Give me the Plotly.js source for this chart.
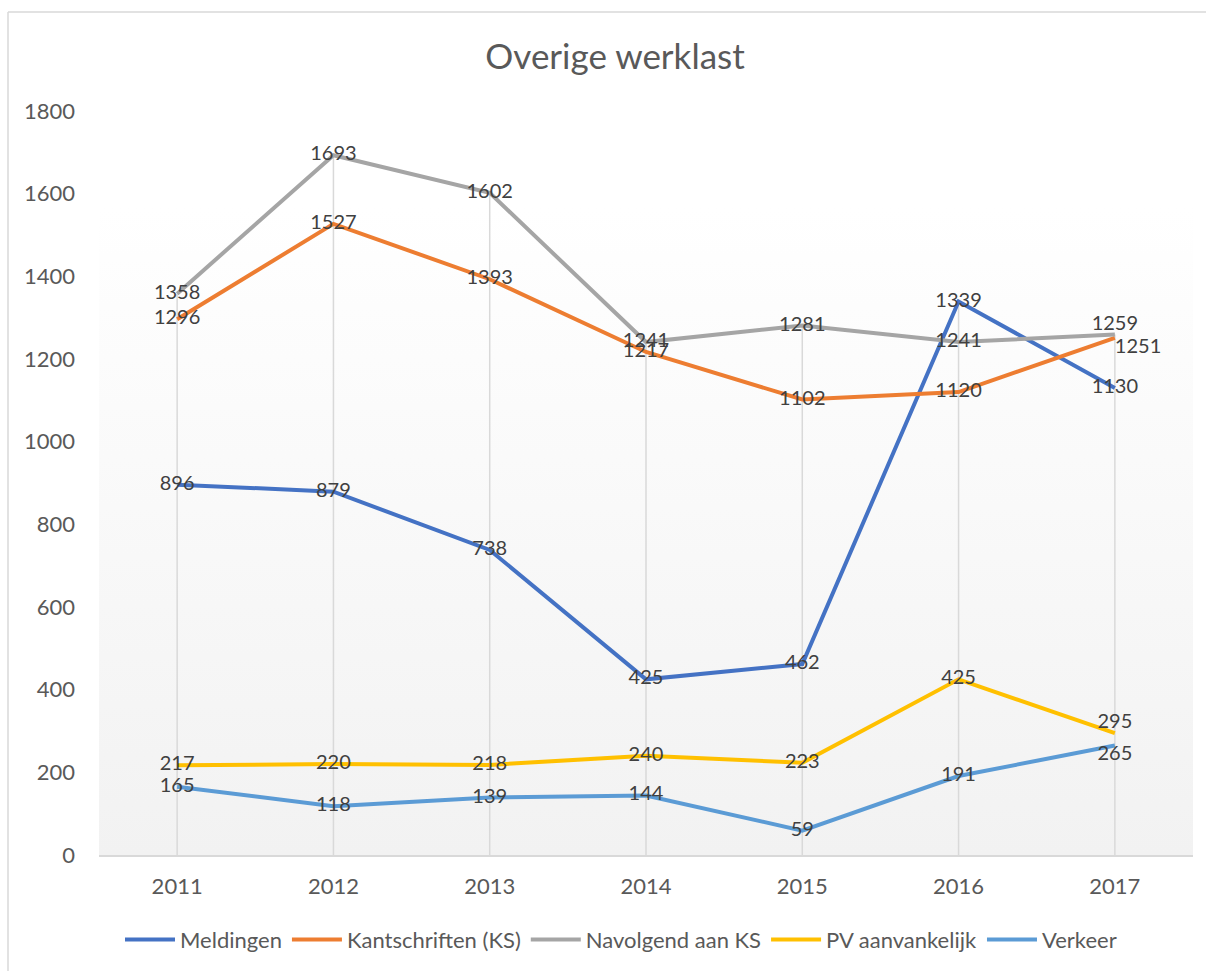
<!DOCTYPE html>
<html>
<head>
<meta charset="utf-8">
<script src="https://cdn.plot.ly/plotly-3.0.1.min.js"></script>
<style>html,body{margin:0;padding:0;background:#fff;}#chart{width:1206px;height:971px;}</style>
</head>
<body>
<div id="chart"></div>
<script>
// ---- data ----
const years = ['2011', '2012', '2013', '2014', '2015', '2016', '2017'];
const seriesNames = ['Meldingen', 'Kantschriften (KS)', 'Navolgend aan KS', 'PV aanvankelijk', 'Verkeer'];
const meldingen = [896, 879, 738, 425, 462, 1339, 1130];
const kantschriften = [1296, 1527, 1393, 1217, 1102, 1120, 1251];
const navolgend = [1358, 1693, 1602, 1241, 1281, 1241, 1259];
const pvAanvankelijk = [217, 220, 218, 240, 223, 425, 295];
const verkeer = [165, 118, 139, 144, 59, 191, 265];
const yTicks = [0, 200, 400, 600, 800, 1000, 1200, 1400, 1600, 1800];

// ---- styles ----
const allSeries = [meldingen, kantschriften, navolgend, pvAanvankelijk, verkeer];
const colors = ['#4472C4', '#ED7D31', '#A5A5A5', '#FFC000', '#5B9BD5'];
const C = 'middle center';
const labelPositions = [
  [C, C, C, C, C, C, C],
  [C, C, C, C, C, C, 'bottom right'],
  [C, C, C, C, C, C, 'top center'],
  [C, C, C, C, C, C, 'top center'],
  [C, C, C, C, C, C, 'bottom center']
];
const FONT = 'Lato, "Open Sans", sans-serif';

const traces = [];
// drop lines from the highest point of each category down to the axis
const dropX = [], dropY = [];
years.forEach((yr, i) => {
  dropX.push(yr, yr, null);
  dropY.push(0, Math.max(...allSeries.map(s => s[i])), null);
});
traces.push({x: dropX, y: dropY, type: 'scatter', mode: 'lines', showlegend: false,
  line: {color: '#d9d9d9', width: 1.5}, hoverinfo: 'skip', connectgaps: false});

allSeries.forEach((vals, i) => {
  traces.push({
    x: years, y: vals, name: seriesNames[i], type: 'scatter', mode: 'lines',
    legendgroup: 'g' + i,
    line: {color: colors[i], width: 4}, hoverinfo: 'x+y+name'
  });
});
allSeries.forEach((vals, i) => {
  traces.push({
    x: years, y: vals, type: 'scatter', mode: 'text', showlegend: false,
    text: vals.map(String), textposition: labelPositions[i],
    textfont: {family: FONT, size: 20, color: '#404040'}, hoverinfo: 'skip'
  });
});

// chart area border (top and left)
const topY = (855 - 12) / 744, leftX = -91 / 1094;
const shapes = [
  {type: 'line', xref: 'paper', yref: 'paper', x0: leftX, x1: 1.2, y0: topY, y1: topY,
    line: {color: '#d9d9d9', width: 1.5}},
  {type: 'line', xref: 'paper', yref: 'paper', x0: leftX, x1: leftX, y0: -0.2, y1: topY,
    line: {color: '#d9d9d9', width: 1.5}}
];

const grad = 'data:image/svg+xml;utf8,' + encodeURIComponent(
  '<svg xmlns="http://www.w3.org/2000/svg" width="10" height="100" viewBox="0 0 10 100" preserveAspectRatio="none">' +
  '<defs><linearGradient id="g" x1="0" y1="0" x2="0" y2="1">' +
  '<stop offset="0" stop-color="#ffffff"/><stop offset="0.13" stop-color="#ffffff"/><stop offset="1" stop-color="#f2f2f2"/>' +
  '</linearGradient></defs><rect width="10" height="100" fill="url(#g)"/></svg>');

const layout = {
  width: 1206, height: 971,
  margin: {l: 99, r: 13, t: 111, b: 116, autoexpand: false},
  paper_bgcolor: '#ffffff',
  plot_bgcolor: 'rgba(0,0,0,0)',
  font: {family: FONT, color: '#595959', size: 22},
  title: {text: 'Overige werklast', font: {family: FONT, size: 35, color: '#595959'},
    x: 0.51, xref: 'container', xanchor: 'center', y: 1 - 57/971, yref: 'container', yanchor: 'middle'},
  xaxis: {type: 'category', range: [-0.5, 6.5], showgrid: false, zeroline: false,
    showline: true, linecolor: '#d9d9d9', linewidth: 2, ticks: '',
    ticklabelstandoff: 11, tickfont: {family: FONT, size: 22, color: '#595959'}, fixedrange: true},
  yaxis: {range: [0, 1800], tickvals: yTicks, ticktext: yTicks.map(String), showgrid: false,
    zeroline: false, showline: false, ticks: '', ticklabelstandoff: 23,
    tickfont: {family: FONT, size: 22, color: '#595959'}, fixedrange: true},
  legend: {orientation: 'h', xref: 'paper', x: (621 - 99) / 1094, xanchor: 'center', y: -0.114, yanchor: 'middle',
    font: {family: FONT, size: 22, color: '#595959'}, bgcolor: 'rgba(0,0,0,0)', itemwidth: 50,
    traceorder: 'grouped', tracegroupgap: 10},
  shapes: shapes,
  images: [{source: grad, xref: 'paper', yref: 'paper', x: 0, y: 1, sizex: 1, sizey: 1,
    sizing: 'stretch', xanchor: 'left', yanchor: 'top', layer: 'below'}],
  showlegend: true
};

Plotly.newPlot('chart', traces, layout, {displayModeBar: false, staticPlot: true});
</script>
</body>
</html>
